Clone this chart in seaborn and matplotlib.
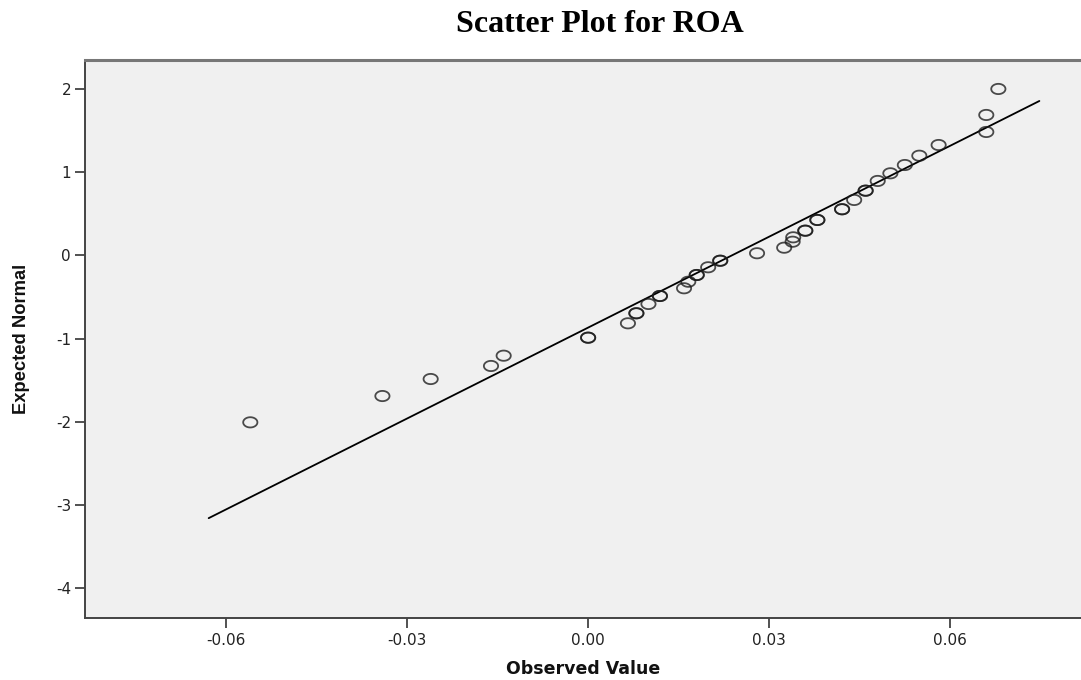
import numpy as np
import pandas as pd
import matplotlib
matplotlib.use("Agg")
import matplotlib.pyplot as plt
from matplotlib.path import Path
import seaborn as sns

# ---- data ----
observed = [-0.0560, -0.0341, -0.0261, -0.0161, -0.0140,
            0.0000, 0.0000, 0.0066, 0.0080, 0.0080, 0.0100, 0.0119, 0.0119,
            0.0159, 0.0166, 0.0180, 0.0180, 0.0199, 0.0219, 0.0219,
            0.0280, 0.0325, 0.0339, 0.0340, 0.0360, 0.0360, 0.0380, 0.0380,
            0.0421, 0.0421, 0.0441, 0.0460, 0.0460, 0.0480, 0.0501, 0.0525,
            0.0549, 0.0581, 0.0660, 0.0660, 0.0680]
expected = [-2.010, -1.693, -1.488, -1.331, -1.207,
            -0.990, -0.990, -0.817, -0.696, -0.696, -0.584, -0.488, -0.488,
            -0.395, -0.316, -0.235, -0.235, -0.142, -0.063, -0.063,
            0.027, 0.094, 0.166, 0.219, 0.299, 0.299, 0.428, 0.428,
            0.557, 0.557, 0.669, 0.781, 0.781, 0.898, 0.990, 1.090,
            1.202, 1.331, 1.488, 1.693, 2.006]

line_mean = 0.0238
line_sd = 0.0274
line_x = [-0.0629, 0.0748]

x_ticks = [-0.06, -0.03, 0.00, 0.03, 0.06]
x_ticklabels = ["-0.06", "-0.03", "0.00", "0.03", "0.06"]
y_ticks = [2, 1, 0, -1, -2, -3, -4]
y_ticklabels = ["2", "1", "0", "-1", "-2", "-3", "-4"]

title = "Scatter Plot for ROA"
xlabel = "Observed Value"
ylabel = "Expected Normal"

# ---- plotting ----
sns.set_theme(style="white")
plt.rcParams["font.family"] = ["DejaVu Sans"]

W, H = 1081, 680
fig = plt.figure(figsize=(W / 100, H / 100), dpi=100)
fig.patch.set_facecolor("white")
ax = fig.add_axes([85 / W, 1 - 618 / H, 1 - 85 / W, (618 - 60) / H])
ax.set_facecolor("#f0f0f0")

# elliptical open marker (circles appear wider than tall in the reference)
t = np.linspace(0, 2 * np.pi, 60)
ell = Path(np.column_stack([np.cos(t), 0.72 * np.sin(t)]), closed=True)

df = pd.DataFrame({"obs": observed, "exp": expected})
sns.scatterplot(data=df, x="obs", y="exp", ax=ax, marker=ell, s=105,
                facecolor="none", edgecolor=(0.1, 0.1, 0.1, 0.78),
                linewidth=1.3, zorder=3)

lx = np.array(line_x)
ly = (lx - line_mean) / line_sd
sns.lineplot(x=lx, y=ly, ax=ax, color="black", linewidth=1.3, zorder=2)

ax.set_xlim(-0.0834, 0.0817)
ax.set_ylim(-4.367, 2.355)
ax.set_xticks(x_ticks)
ax.set_xticklabels(x_ticklabels)
ax.set_yticks(y_ticks)
ax.set_yticklabels(y_ticklabels)
ax.tick_params(axis="both", which="major", direction="out", width=1.2,
               color="#333333", labelsize=11, labelcolor="#222222",
               bottom=True, left=True)
ax.tick_params(axis="x", length=7, pad=4)
ax.tick_params(axis="y", length=7, pad=3)

for side in ["left", "bottom"]:
    ax.spines[side].set_color("#444444")
    ax.spines[side].set_linewidth(1.4)
ax.spines["top"].set_color("#777777")
ax.spines["top"].set_linewidth(2.2)
ax.spines["right"].set_visible(False)

ax.set_xlabel(xlabel, fontsize=12.5, fontweight="bold", color="#111111")
ax.xaxis.set_label_coords((583 - 85) / (W - 85), (618 - 669) / (618 - 60))
ax.xaxis.label.set_va("center")

ax.set_ylabel(ylabel, fontsize=13.2, fontweight="bold", color="#111111",
              family=["Liberation Sans", "DejaVu Sans"])
ax.yaxis.set_label_coords((22 - 85) / (W - 85), 0.5)
ax.yaxis.label.set_va("center")

fig.text(600 / W, 1 - 24 / H, title, ha="center", va="center",
         fontsize=23, fontweight="bold", family=["Liberation Serif", "DejaVu Serif"],
         color="black")

fig.savefig("out.png", dpi=100, facecolor="white")
